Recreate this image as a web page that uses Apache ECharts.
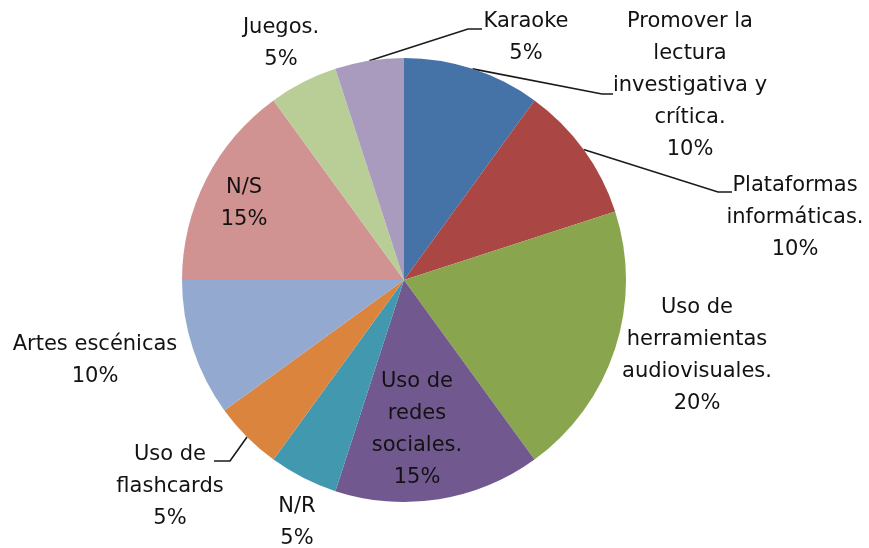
<!DOCTYPE html>
<html>
<head>
<meta charset="utf-8">
<script src="https://cdn.jsdelivr.net/npm/echarts@6/dist/echarts.min.js"></script>
<style>
  html, body { margin: 0; padding: 0; background: #fff; }
  #main { width: 869px; height: 548px; }
</style>
</head>
<body>
<div id="main"></div>
<script>
// categories, clockwise from 12 o'clock
var categories = [
    'Promover la\nlectura\ninvestigativa y\ncrítica.',
    'Plataformas\ninformáticas.',
    'Uso de\nherramientas\naudiovisuales.',
    'Uso de\nredes\nsociales.',
    'N/R',
    'Uso de\nflashcards',
    'Artes escénicas',
    'N/S',
    'Juegos.',
    'Karaoke'
];
var percents = [10, 10, 20, 15, 5, 5, 10, 15, 5, 5];
var colors = ['#4572A7', '#AA4643', '#89A54E', '#71588F', '#4198AF',
              '#DB843D', '#93A9CF', '#D19392', '#B9CD96', '#A99BBD'];

// where each label sits (centre of text block)
var labelSpots = [[690, 86], [795, 218], [697, 356], [417, 430], [297, 523],
                  [170, 487], [95, 361], [244, 204], [281, 44], [526, 38]];
// elbow + end of leader lines, only for labels that have one
var leaders = {
    0: [[602, 94], [613, 94]],
    1: [[718, 192], [732, 192]],
    5: [[230, 461], [214, 461]],
    9: [[468, 29], [482, 29]]
};

var chart = echarts.init(document.getElementById('main'));

var pieData = categories.map(function (name, i) {
    return {
        name: name,
        value: percents[i],
        itemStyle: { color: colors[i] },
        labelLine: { show: !!leaders[i] }
    };
});

var option = {
    backgroundColor: '#fff',
    animation: false,
    series: [
        {
            type: 'pie',
            center: [404, 280],
            radius: 222,
            startAngle: 90,
            clockwise: true,
            avoidLabelOverlap: false,
            itemStyle: { borderWidth: 0 },
            label: {
                show: true,
                position: 'outside',
                formatter: '{b}\n{d}%',
                fontFamily: 'DejaVu Sans',
                fontSize: 21,
                lineHeight: 32,
                color: '#121212',
                align: 'center'
            },
            labelLine: {
                show: true,
                length: 20,
                length2: 10,
                lineStyle: { color: '#1a1a1a', width: 1.6 }
            },
            labelLayout: function (params) {
                var i = params.dataIndex;
                var spot = labelSpots[i];
                var out = {
                    x: spot[0],
                    y: spot[1],
                    align: 'center',
                    verticalAlign: 'middle'
                };
                if (leaders[i] && params.labelLinePoints) {
                    out.labelLinePoints = [params.labelLinePoints[0]].concat(leaders[i]);
                }
                return out;
            },
            data: pieData
        }
    ]
};

chart.setOption(option);
</script>
</body>
</html>
